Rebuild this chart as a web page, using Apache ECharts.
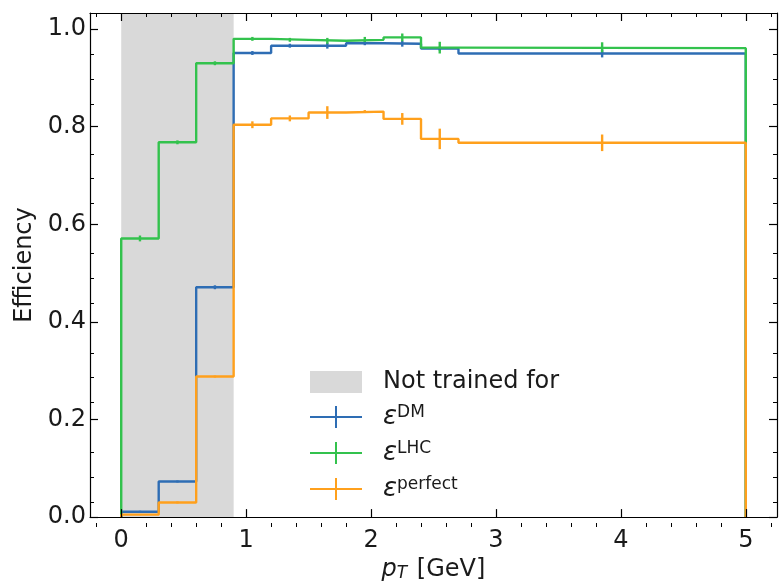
<!DOCTYPE html>
<html>
<head>
<meta charset="utf-8">
<script src="https://cdn.jsdelivr.net/npm/echarts@6/dist/echarts.min.js"></script>
<style>
  html, body { margin: 0; padding: 0; background: #fff; }
  #chart { width: 779px; height: 587px; }
</style>
</head>
<body>
<div id="chart"></div>
<script>
// Histogram bin edges in pT [GeV]
const binEdges = [0, 0.3, 0.6, 0.9, 1.2, 1.5, 1.8, 2.1, 2.4, 2.7, 5.0];

// Efficiency per bin and its uncertainty
const effDM      = [0.011, 0.073, 0.471, 0.951, 0.966, 0.966, 0.971, 0.970, 0.960, 0.950];
const errDM      = [0.002, 0.002, 0.004, 0.004, 0.004, 0.006, 0.004, 0.006, 0.004, 0.008];
const effLHC     = [0.571, 0.768, 0.930, 0.980, 0.978, 0.976, 0.978, 0.983, 0.962, 0.961];
const errLHC     = [0.006, 0.004, 0.004, 0.004, 0.004, 0.006, 0.006, 0.008, 0.012, 0.012];
const effPerfect = [0.005, 0.030, 0.288, 0.804, 0.817, 0.829, 0.831, 0.816, 0.775, 0.767];
const errPerfect = [0.001, 0.002, 0.002, 0.007, 0.006, 0.013, 0.003, 0.012, 0.021, 0.017];

// pT range excluded from training
const notTrainedRange = [0, 0.9];

// Axis ticks
const xMajorTicks = [0, 1, 2, 3, 4, 5];
const xMinorTicks = [-0.2, 0.2, 0.4, 0.6, 0.8, 1.2, 1.4, 1.6, 1.8, 2.2, 2.4, 2.6, 2.8,
                     3.2, 3.4, 3.6, 3.8, 4.2, 4.4, 4.6, 4.8, 5.2];
const yMajorTicks = [0, 0.2, 0.4, 0.6, 0.8, 1.0];
const yMinorTicks = [0.05, 0.1, 0.15, 0.25, 0.3, 0.35, 0.45, 0.5, 0.55, 0.65, 0.7, 0.75,
                     0.85, 0.9, 0.95];

const FONT = 'DejaVu Sans';
const TEXT = '#1a1a1a';
const COLORS = { DM: '#2e6db4', LHC: '#33c24d', perfect: '#ffa01c' };
const SPAN_COLOR = '#d9d9d9';
const X_RANGE = [-0.25, 5.25];
const Y_RANGE = [0, 1.033];
const LINE_W = 2.4;

// Closed stair outline: starts and ends on the baseline
function stairs(edges, values) {
  const pts = [[edges[0], 0]];
  values.forEach((v, i) => {
    pts.push([edges[i], v]);
    pts.push([edges[i + 1], v]);
  });
  pts.push([edges[edges.length - 1], 0]);
  return pts;
}

// Vertical error bars at bin centres
function errorData(edges, values, errs) {
  return values.map((v, i) => [(edges[i] + edges[i + 1]) / 2, v - errs[i], v + errs[i]]);
}

function stairSeries(name, values) {
  return {
    name: name,
    type: 'line',
    xAxisIndex: 0, yAxisIndex: 0,
    data: stairs(binEdges, values),
    showSymbol: false,
    color: COLORS[name],
    lineStyle: { width: LINE_W, color: COLORS[name] },
    z: 3,
    animation: false
  };
}

function errorSeries(name, values, errs) {
  return {
    name: name,
    type: 'custom',
    xAxisIndex: 0, yAxisIndex: 0,
    data: errorData(binEdges, values, errs),
    color: COLORS[name],
    z: 3,
    animation: false,
    renderItem: function (params, api) {
      const lo = api.coord([api.value(0), api.value(1)]);
      const hi = api.coord([api.value(0), api.value(2)]);
      return {
        type: 'line',
        shape: { x1: lo[0], y1: lo[1], x2: hi[0], y2: hi[1] },
        style: { stroke: COLORS[name], lineWidth: LINE_W }
      };
    }
  };
}

const axisLine = { show: true, onZero: false, lineStyle: { color: '#000', width: 1.2 } };
const hiddenLine = { show: false, onZero: false };
const majorTick = (vals) => ({ show: true, inside: true, length: 8, customValues: vals,
                               lineStyle: { color: '#000', width: 1.2 } });
const minorTickCfg = (vals) => ({ show: true, inside: true, length: 4, customValues: vals,
                                  lineStyle: { color: '#000', width: 1 } });

function xAx(grid, pos, ticks, withLabels, minor) {
  return {
    type: 'value', gridIndex: grid, position: pos, z: 10,
    min: X_RANGE[0], max: X_RANGE[1],
    axisLine: minor ? hiddenLine : axisLine,
    axisTick: minor ? minorTickCfg(ticks) : majorTick(ticks),
    axisLabel: withLabels ? {
      show: true, customValues: ticks, margin: 12, color: TEXT,
      fontFamily: FONT, fontSize: 24, formatter: v => String(Math.round(v))
    } : { show: false },
    splitLine: { show: false }
  };
}

function yAx(grid, pos, ticks, withLabels, minor) {
  return {
    type: 'value', gridIndex: grid, position: pos, z: 10,
    min: Y_RANGE[0], max: Y_RANGE[1],
    axisLine: minor ? hiddenLine : axisLine,
    axisTick: minor ? minorTickCfg(ticks) : majorTick(ticks),
    axisLabel: withLabels ? {
      show: true, customValues: ticks, margin: 4, color: TEXT,
      fontFamily: FONT, fontSize: 24, formatter: v => v.toFixed(1)
    } : { show: false },
    splitLine: { show: false }
  };
}

const xMain = xAx(0, 'bottom', xMajorTicks, true, false);
xMain.name = '{i|p}{sub|T} [GeV]';
xMain.nameLocation = 'middle';
xMain.nameGap = 36;
xMain.nameTextStyle = {
  color: TEXT, fontFamily: FONT, fontSize: 24,
  rich: {
    i: { fontFamily: FONT, fontSize: 24, fontStyle: 'italic', color: TEXT },
    sub: { fontFamily: FONT, fontSize: 17, fontStyle: 'italic', color: TEXT,
           verticalAlign: 'bottom', padding: [0, 2, 0, 0] }
  }
};

const yMain = yAx(0, 'left', yMajorTicks, true, false);
yMain.name = 'Efficiency';
yMain.nameLocation = 'middle';
yMain.nameGap = 48;
yMain.nameTextStyle = { color: TEXT, fontFamily: FONT, fontSize: 24 };

const crossIcon = 'path://M0,10h52v2h-52zM25,0h2v22h-2z';

const option = {
  backgroundColor: '#fff',
  animation: false,
  grid: [
    { left: 90, right: 2, top: 13, bottom: 60 },
    { left: 90, right: 2, top: 13, bottom: 60 }
  ],
  xAxis: [
    xMain,
    xAx(0, 'top', xMajorTicks, false, false),
    xAx(1, 'bottom', xMinorTicks, false, true),
    xAx(1, 'top', xMinorTicks, false, true)
  ],
  yAxis: [
    yMain,
    yAx(0, 'right', yMajorTicks, false, false),
    yAx(1, 'left', yMinorTicks, false, true),
    yAx(1, 'right', yMinorTicks, false, true)
  ],
  legend: {
    orient: 'vertical',
    left: 305, top: 365,
    itemWidth: 52, itemHeight: 22, itemGap: 10,
    selectedMode: false,
    data: [
      { name: 'Not trained for', icon: 'rect', itemStyle: { color: SPAN_COLOR } },
      { name: 'DM', icon: crossIcon },
      { name: 'LHC', icon: crossIcon },
      { name: 'perfect', icon: crossIcon }
    ],
    formatter: name => name === 'Not trained for' ? name : '{eps|ε}{sup|' + name + '}',
    textStyle: {
      color: TEXT, fontFamily: FONT, fontSize: 24, padding: [0, 0, 0, 16],
      rich: {
        eps: { fontFamily: FONT, fontSize: 26, fontStyle: 'italic', color: TEXT,
               lineHeight: 25 },
        sup: { fontFamily: FONT, fontSize: 17, color: TEXT, verticalAlign: 'top',
               lineHeight: 17 }
      }
    }
  },
  series: [
    {
      name: 'Not trained for',
      type: 'line',
      xAxisIndex: 0, yAxisIndex: 0,
      data: [],
      color: SPAN_COLOR,
      z: 1,
      markArea: {
        silent: true,
        itemStyle: { color: SPAN_COLOR },
        data: [[{ xAxis: notTrainedRange[0] }, { xAxis: notTrainedRange[1] }]]
      }
    },
    stairSeries('DM', effDM),
    errorSeries('DM', effDM, errDM),
    stairSeries('LHC', effLHC),
    errorSeries('LHC', effLHC, errLHC),
    stairSeries('perfect', effPerfect),
    errorSeries('perfect', effPerfect, errPerfect)
  ]
};

const chart = echarts.init(document.getElementById('chart'), null, { renderer: 'canvas' });
chart.setOption(option);
</script>
</body>
</html>
